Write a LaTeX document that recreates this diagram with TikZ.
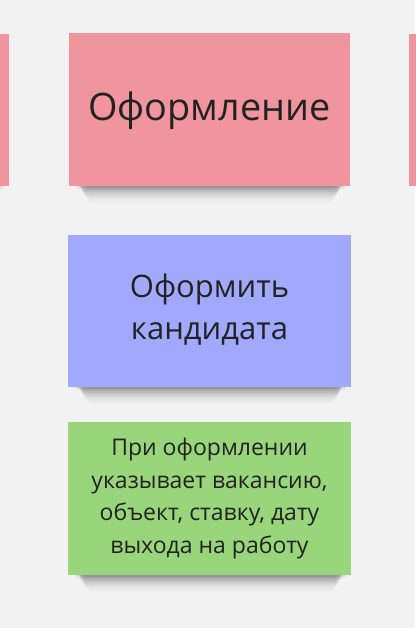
\documentclass[tikz,border=0pt]{standalone}
\usepackage{fontspec}
\setmainfont{Open Sans}
\definecolor{bg}{HTML}{F2F2F2}
\definecolor{pinkn}{HTML}{F0959E}
\definecolor{bluen}{HTML}{A1A9FC}
\definecolor{greenn}{HTML}{99D57B}
\definecolor{txt}{HTML}{222222}
\tikzset{
  note/.style={fill=#1, draw=none},
  notetext/.style={text=txt, align=center, inner sep=0pt},
}
\newcommand{\noteshadow}[3]{% x1, x2, ybottom
  \foreach \i/\o in {0/0.11,2/0.09,4/0.07,6/0.055,8/0.04,10/0.03,12/0.02,14/0.014,16/0.008}{
    \fill[black, opacity=\o, rounded corners=8pt] (#1+8+\i*0.6,#3-4) rectangle (#2-6-\i*0.6,#3+2+\i);
  }
}
\begin{document}
\begin{tikzpicture}[x=1pt,y=-1pt]
\useasboundingbox (0,0) rectangle (415,628);
\fill[bg] (0,0) rectangle (415,628);
% shadows
\noteshadow{69}{350}{186}
\noteshadow{68}{351}{387}
\noteshadow{68}{351}{575}
\noteshadow{-200}{9}{186}
\noteshadow{409}{700}{186}
% notes
\fill[note=pinkn] (-200,34) rectangle (9,186);
\fill[note=pinkn] (409,34) rectangle (700,186);
\fill[note=pinkn] (69,33) rectangle (350,186);
\fill[note=bluen] (68,235) rectangle (351,387);
\fill[note=greenn] (68,422) rectangle (351,575);
% texts
\node[notetext, font=\fontsize{37.8}{44}\selectfont] (t1) at (209.5,111) {Оформление};
\node[notetext, font=\fontsize{31}{42}\selectfont] (t2) at (209.5,310) {Оформить\\кандидата};
\node[notetext, font=\fontsize{23}{32.6}\selectfont] (t3) at (209.5,498.5) {При оформлении\\указывает вакансию,\\объект, ставку, дату\\выхода на работу};
\end{tikzpicture}
\end{document}
